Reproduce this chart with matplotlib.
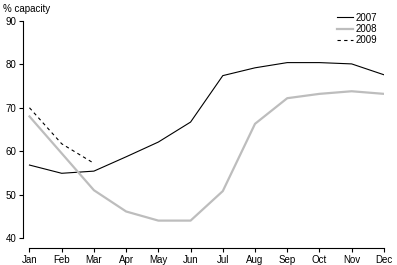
import matplotlib
matplotlib.use('Agg')
import matplotlib.pyplot as plt

months = ['Jan', 'Feb', 'Mar', 'Apr', 'May', 'Jun', 'Jul', 'Aug', 'Sep', 'Oct', 'Nov', 'Dec']
cap_2007 = [56.8, 54.9, 55.4, 58.7, 62.1, 66.7, 77.4, 79.2, 80.4, 80.4, 80.1, 77.6]
cap_2008 = [68.0, 59.5, 51.0, 46.1, 44.0, 44.0, 50.8, 66.3, 72.2, 73.2, 73.8, 73.2]
cap_2009 = [70.0, 61.7, 57.2]
y_ticks = [40, 50, 60, 70, 80, 90]

plt.rcParams['font.family'] = ['Liberation Sans', 'DejaVu Sans']

fig = plt.figure(figsize=(3.97, 2.65), dpi=100)
ax = fig.add_axes([0.058, 0.102, 0.909, 0.819])

x = list(range(len(months)))
ax.plot(x, cap_2007, color='black', linewidth=0.8, label='2007')
ax.plot(x, cap_2008, color='#BDBDBD', linewidth=1.6, label='2008')
ax.plot(x[:len(cap_2009)], cap_2009, color='black', linewidth=0.8,
        linestyle=(0, (3, 3)), label='2009')

ax.set_xlim(-0.2, 11)
ax.set_ylim(40, 90)
ax.set_xticks(x)
ax.set_xticklabels(months)
ax.set_yticks(y_ticks)

for spine in ['top', 'right']:
    ax.spines[spine].set_visible(False)
ax.spines['left'].set_bounds(40, 90)
ax.spines['bottom'].set_position(('outward', 7))
ax.spines['bottom'].set_bounds(0, 11)
for spine in ['left', 'bottom']:
    ax.spines[spine].set_linewidth(0.8)

ax.tick_params(axis='both', labelsize=7, length=3, width=0.8, pad=2, colors='black')

fig.text(0.008, 0.965, '% capacity', fontsize=7, ha='left', va='center')

leg = ax.legend(loc='upper right', bbox_to_anchor=(1.0, 1.07), frameon=False,
                fontsize=7, handlelength=1.6, handletextpad=0.3, labelspacing=0.15,
                borderpad=0.2)

plt.savefig('out.png', dpi=100)
plt.close()
